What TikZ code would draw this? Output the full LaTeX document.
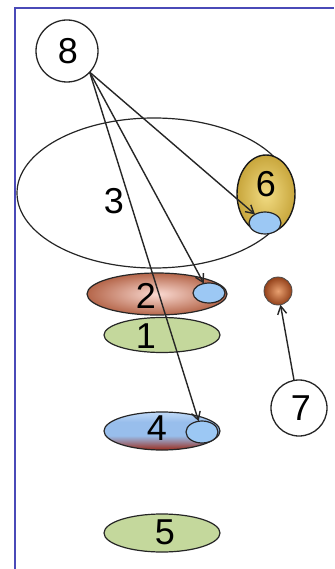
\documentclass[tikz,border=0pt]{standalone}
\usepackage{fontspec}
\setmainfont{Liberation Sans}
\usetikzlibrary{shapes.geometric,arrows.meta}
\definecolor{frameblue}{HTML}{4A4AB8}
\definecolor{goldin}{HTML}{F2DC84}
\definecolor{goldout}{HTML}{C8A63C}
\definecolor{lblue}{HTML}{9CC8F4}
\definecolor{pinkin}{HTML}{FADAD2}
\definecolor{brownout}{HTML}{B5664A}
\definecolor{lgreen}{HTML}{C4D89C}
\definecolor{blutop}{HTML}{C0DAF8}
\definecolor{blumid}{HTML}{98BEEC}
\definecolor{redbot}{HTML}{9B2A1A}
\definecolor{ballin}{HTML}{E8A070}
\definecolor{ballout}{HTML}{93411A}
\pgfdeclareverticalshading{bluered}{100bp}{color(0bp)=(redbot); color(25bp)=(redbot); color(36bp)=(blumid!60!redbot); color(44bp)=(blumid); color(62bp)=(blumid); color(75bp)=(blutop); color(100bp)=(blutop)}
\begin{document}
\begin{tikzpicture}[x=1pt,y=-1pt,
  every node/.style={inner sep=0pt,outer sep=0pt},
  ell/.style={ellipse,draw=black!85,line width=1.2pt},
  num/.style={font=\fontsize{36}{36}\selectfont},
  ring/.style={circle,draw=black!85,line width=1.3pt,fill=white,minimum size=#1},
  arr/.style={draw=black!85,line width=1.4pt,-{Straight Barb[length=8pt,width=9pt]}}
]
\useasboundingbox (0,0) rectangle (334,569);
\fill[white] (0,0) rectangle (334,569);
\draw[frameblue,line width=2pt] (15,569) -- (15,8) -- (334,8);

% big ellipse 3
\node[ell,minimum width=274pt,minimum height=150pt] (n3) at (154,193) {};
% 6
\node[ell,draw=black!90,line width=1.4pt,inner color=goldin,outer color=goldout,minimum width=58pt,minimum height=78pt] (n6) at (266,194) {};
\node[ell,fill=lblue,minimum width=32pt,minimum height=22pt] (b6) at (265,223) {};
% 2
\node[ell,inner color=pinkin,outer color=brownout,minimum width=140pt,minimum height=42pt] (n2) at (157,294) {};
\node[ell,fill=lblue,minimum width=32pt,minimum height=20pt] (b2) at (209,293) {};
% 1
\node[ell,fill=lgreen,minimum width=116pt,minimum height=35pt] (n1) at (162,335) {};
% ball
\node[circle,draw=black!70,line width=0.8pt,inner color=ballin,outer color=ballout,minimum size=28pt] (ball) at (278,291) {};
% 4
\node[ell,shading=bluered,minimum width=116pt,minimum height=38pt] (n4) at (162,431) {};
\node[ell,fill=lblue,minimum width=32pt,minimum height=22pt] (b4) at (202,432) {};
% 5
\node[ell,fill=lgreen,minimum width=116pt,minimum height=38pt] (n5) at (162,533) {};
% circles
\node[ring=62pt] (n8) at (67,51) {};
\node[ring=56pt] (n7) at (299,408) {};

% labels
\node[num] (t8) at (68,51) {8};
\node[num] (t3) at (114,201) {3};
\node[num] (t6) at (266,184) {6};
\node[num] (t2) at (146,296) {2};
\node[num] (t1) at (146,336) {1};
\node[num] (t4) at (157,428) {4};
\node[num] (t5) at (165,532) {5};
\node[num] (t7) at (301,408) {7};

% arrows
\coordinate (s8) at (n8.-43);
\draw[arr] (s8) -- (b6);
\draw[arr] (s8) -- (b2);
\draw[arr] (s8) -- (b4);
\draw[arr] (n7) -- (ball);
\end{tikzpicture}
\end{document}
